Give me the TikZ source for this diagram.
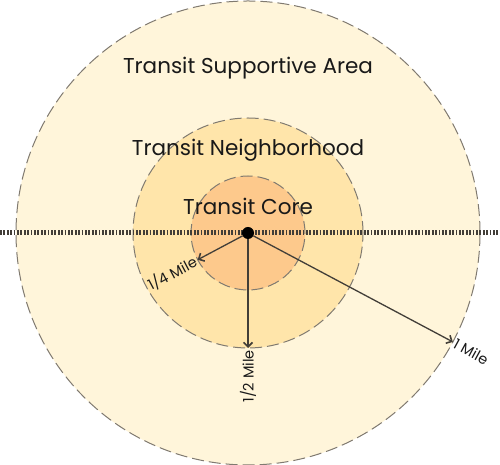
\documentclass[tikz,border=0pt]{standalone}
\usepackage{fontspec}
\setmainfont{Poppins}
\usetikzlibrary{arrows.meta}
\definecolor{Area}{RGB}{255,245,218}
\definecolor{Hood}{RGB}{255,229,170}
\definecolor{Core}{RGB}{253,201,140}
\definecolor{Rim}{RGB}{128,122,112}
\definecolor{Ink}{RGB}{66,62,56}
\newcommand{\zone}[3]{\node[ring, fill=#2, minimum size=#3] (#1) at (c) {};}
\tikzset{
  ring/.style={circle, draw=Rim, line width=1pt, dash pattern=on 12pt off 5pt, inner sep=0pt, outer sep=0pt},
  zonetext/.style={text=black!90, font=\fontsize{21.5}{25}\selectfont},
  disttext/.style={text=black!90, inner sep=2pt, font=\fontsize{14.5}{17}\selectfont},
  reach/.style={draw=Ink, line width=1.3pt, -{Straight Barb[length=4.5pt,width=9pt,line width=1.6pt]}}
}
\begin{document}
\begin{tikzpicture}[x=1pt,y=1pt]
\useasboundingbox (0,0) rectangle (500,465);
\coordinate (c) at (248,232);
\zone{area}{Area}{464pt}
\zone{hood}{Hood}{230pt}
\zone{core}{Core}{114pt}
% names of the zones
\node[zonetext] (areaname) at (248,397) {Transit Supportive Area};
\node[zonetext] (hoodname) at (248,315) {Transit Neighborhood};
\node[zonetext] (corename) at (248,259) {Transit Core};
% the line through the station
\coordinate (west) at (0,232);
\coordinate (east) at (500,232);
\draw[Ink, line width=5pt, dash pattern=on 1.7pt off 1.7pt] (west) -- (east);
\node[circle, fill=black, minimum size=12pt, inner sep=0pt] (hub) at (c) {};
% distances
\draw[reach] (hub) -- (core.208);
\draw[reach] (hub) -- (hood.south);
\draw[reach] (hub) -- (area.-28.6);
\node[disttext, anchor=east, rotate=28] (quarter) at (core.208) {1/4 Mile};
\node[disttext, anchor=east, rotate=90] (half) at (hood.south) {1/2 Mile};
\node[disttext, anchor=west, rotate=-28.6] (mile) at (area.-28.6) {1 Mile};
\end{tikzpicture}
\end{document}
